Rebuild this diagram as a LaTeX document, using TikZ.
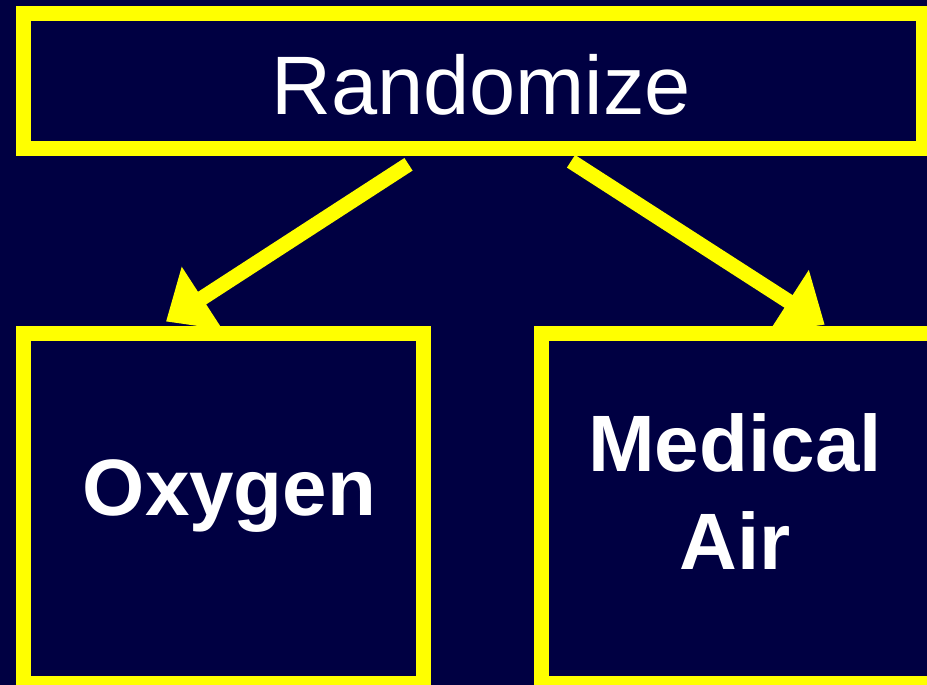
\documentclass[tikz,border=0pt]{standalone}
\usepackage{fontspec}
\setmainfont{Liberation Sans}
\usetikzlibrary{arrows.meta,calc}
\definecolor{navy}{RGB}{0,0,66}
\definecolor{hiyellow}{RGB}{255,255,0}
\begin{document}
\begin{tikzpicture}[x=1pt,y=-1pt,
  frame/.style={draw=hiyellow, line width=15pt, rectangle, inner sep=0pt},
  txt/.style={text=white, inner sep=0pt},
  link/.style={draw=hiyellow, line width=15pt, -{Triangle[length=43pt,width=72pt]}}
]
% background and page size
\fill[navy] (0,0) rectangle (927,685);
\useasboundingbox (0,0) rectangle (927,685);

% frames
\node[frame, minimum width=900pt, minimum height=135pt] (rand) at (473.5,81) {};
\node[frame, minimum width=400pt, minimum height=350pt] (oxbox) at (223.5,508.5) {};
\node[frame, minimum width=400pt, minimum height=350pt] (airbox) at (741.5,508.5) {};

% arrows from the top frame down to the two arms
\draw[link] ($(rand.south)+(-65,8.3)$) -- ($(oxbox.north)+(-57.5,-4.5)$);
\draw[link] ($(rand.south)+(97.5,5.3)$) -- ($(airbox.north)+(83.2,-1.3)$);

% texts
\node[txt, font=\fontsize{83}{100}\selectfont, anchor=base] (randtxt) at (481,114) {Randomize};
\node[txt, font=\bfseries\fontsize{80}{98}\selectfont, anchor=base] (oxtxt) at (229.5,515) {Oxygen};
\node[txt, font=\bfseries\fontsize{80}{98}\selectfont, align=center, anchor=base] (airtxt) at (735,569) {Medical\\Air};
\end{tikzpicture}
\end{document}
